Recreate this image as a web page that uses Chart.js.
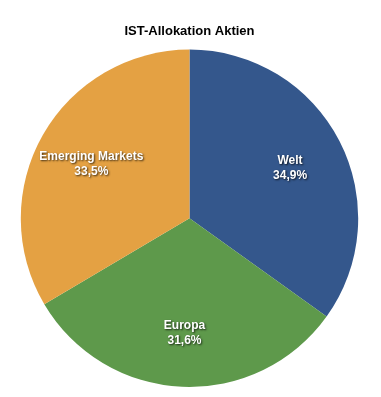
<!DOCTYPE html>
<html>
<head>
<meta charset="utf-8">
<script src="https://cdn.jsdelivr.net/npm/chart.js@4"></script>
<style>
  html, body { margin: 0; padding: 0; background: #fff; }
  #wrap { width: 381px; height: 397px; }
</style>
</head>
<body>
<div id="wrap"><canvas id="chart"></canvas></div>
<script>
const categories = ["Welt", "Europa", "Emerging Markets"];
const shares = [34.9, 31.6, 33.5];
const colors = ["#34578C", "#5E994B", "#E4A143"];

const sliceLabels = {
  id: "sliceLabels",
  afterDatasetsDraw(chart) {
    const ctx = chart.ctx;
    const meta = chart.getDatasetMeta(0);
    ctx.save();
    ctx.font = "bold 12px 'Liberation Sans', Arial, sans-serif";
    ctx.fillStyle = "#fff";
    ctx.textAlign = "center";
    ctx.textBaseline = "middle";
    ctx.shadowColor = "rgba(0,0,0,0.75)";
    ctx.shadowOffsetX = 1;
    ctx.shadowOffsetY = 1;
    ctx.shadowBlur = 2;
    meta.data.forEach((arc, i) => {
      const p = arc.getProps(["x", "y", "startAngle", "endAngle", "outerRadius"], true);
      const mid = (p.startAngle + p.endAngle) / 2;
      const r = p.outerRadius * 0.67;
      const x = p.x + Math.cos(mid) * r;
      const y = p.y + Math.sin(mid) * r;
      const pct = shares[i].toFixed(1).replace(".", ",") + "%";
      ctx.fillText(categories[i], x, y - 6);
      ctx.fillText(pct, x, y + 9);
    });
    ctx.restore();
  },
};

new Chart(document.getElementById("chart"), {
  type: "pie",
  data: {
    labels: categories,
    datasets: [
      {
        data: shares,
        backgroundColor: colors,
        borderWidth: 0,
      },
    ],
  },
  options: {
    responsive: true,
    maintainAspectRatio: false,
    animation: false,
    layout: {
      padding: { top: 0, left: 0, right: 2, bottom: 10 },
    },
    plugins: {
      legend: { display: false },
      tooltip: { enabled: false },
      title: {
        display: true,
        text: "IST-Allokation Aktien",
        color: "#000",
        font: { family: "'Liberation Sans', Arial, sans-serif", size: 13, weight: "bold" },
        padding: { top: 24, bottom: 10 },
      },
    },
  },
  plugins: [sliceLabels],
});
</script>
</body>
</html>
